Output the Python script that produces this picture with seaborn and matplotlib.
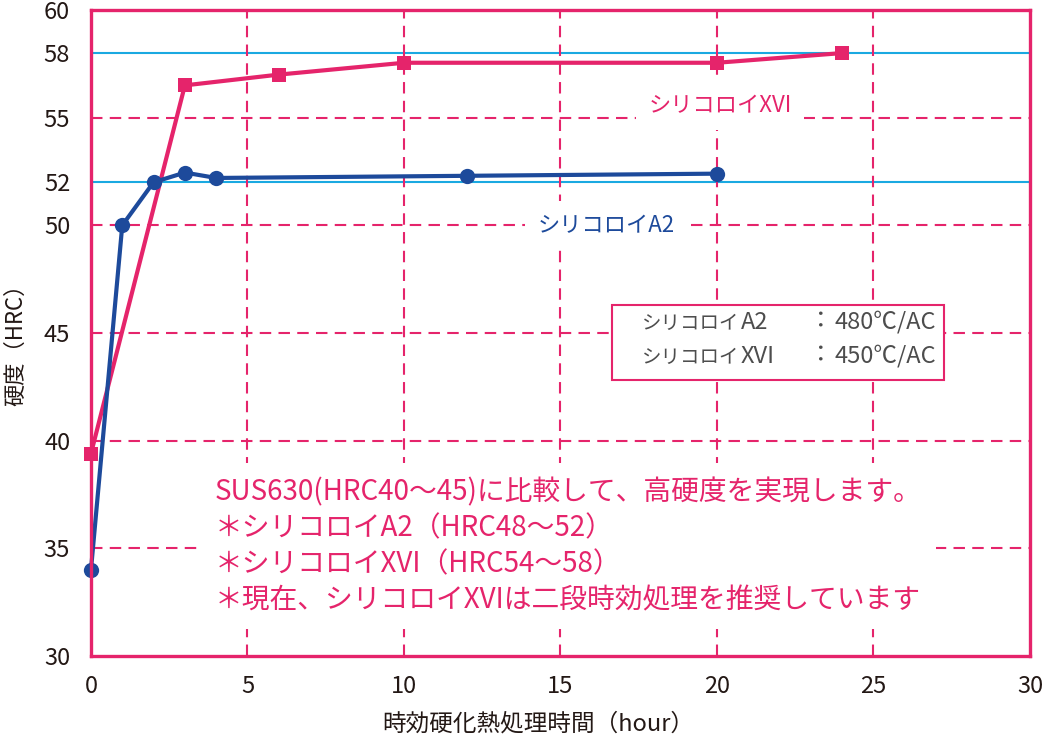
import matplotlib
matplotlib.use("Agg")
import matplotlib.pyplot as plt
import seaborn as sns
import pandas as pd
from matplotlib.patches import Rectangle

# data
xvi_time = [0, 3, 6, 10, 20, 24]
xvi_hrc = [39.4, 56.5, 57.0, 57.55, 57.55, 58.0]
a2_time = [0, 1, 2, 3, 4, 12, 20]
a2_hrc = [34.0, 50.0, 52.0, 52.45, 52.2, 52.3, 52.4]

y_ticks = [30, 35, 40, 45, 50, 52, 55, 58, 60]
x_ticks = [0, 5, 10, 15, 20, 25, 30]
dashed_y = [35, 40, 45, 50, 55]
solid_y = [52, 58]
dashed_x = [5, 10, 15, 20, 25]

PINK = "#E5246B"
BLUE = "#1D4A9B"
CYAN = "#1AA9E1"
DARK = "#231815"
GRAY = "#4D4D4D"

sns.set_style("white")
plt.rcParams['font.family'] = ['Noto Sans CJK JP', 'DejaVu Sans']

df_xvi = pd.DataFrame({"time": xvi_time, "hrc": xvi_hrc})
df_a2 = pd.DataFrame({"time": a2_time, "hrc": a2_hrc})

fig = plt.figure(figsize=(10.48, 7.41), dpi=100)
ax = fig.add_axes([0.0868, 0.1147, 0.896, 0.8718])

# grid
dash = (0, (5.5, 3.5))
for y in dashed_y:
    ax.axhline(y, color=PINK, lw=1.5, ls=dash, zorder=1)
for y in solid_y:
    ax.axhline(y, color=CYAN, lw=1.5, zorder=1)
for x in dashed_x:
    ax.axvline(x, color=PINK, lw=1.5, ls=dash, zorder=1)

sns.lineplot(data=df_xvi, x="time", y="hrc", ax=ax, color=PINK, lw=3,
             marker="s", markersize=10, markeredgewidth=0, zorder=4, clip_on=False)
sns.lineplot(data=df_a2, x="time", y="hrc", ax=ax, color=BLUE, lw=3,
             marker="o", markersize=11, markeredgewidth=0, zorder=4, clip_on=False)

ax.set_xlim(0, 30)
ax.set_ylim(30, 60)
ax.set_xticks(x_ticks)
ax.set_yticks(y_ticks)
ax.tick_params(length=0, labelsize=17, colors=DARK)
ax.tick_params(axis="y", pad=15)
ax.tick_params(axis="x", pad=14)

for s in ax.spines.values():
    s.set_color(PINK)
    s.set_linewidth(2.4)
    s.set_zorder(5)

ax.set_xlabel("時効硬化熱処理時間（hour）", fontsize=17, color=DARK)
ax.xaxis.set_label_coords(0.476, -0.087)
ax.set_ylabel("硬度（HRC）", fontsize=16, color=DARK)
ax.yaxis.set_label_coords(-0.068, 0.49)

# series labels
ax.text(20.1, 55.55, "シリコロイXVI", color=PINK, fontsize=16, ha="center", va="center",
        zorder=3, bbox=dict(facecolor="white", edgecolor="none", pad=9))
ax.text(16.45, 50.0, "シリコロイA2", color=BLUE, fontsize=16, ha="center", va="center",
        zorder=3, bbox=dict(facecolor="white", edgecolor="none", pad=9))

# condition box
ax.add_patch(Rectangle((16.65, 42.82), 10.6, 3.48, facecolor="white",
                       edgecolor=PINK, lw=1.5, zorder=3))
box_rows = [(45.2, "A2", "480℃/AC"), (43.62, "XVI", "450℃/AC")]
for yy, grade, cond in box_rows:
    kana = ax.text(17.6, yy, "シリコロイ", color=GRAY, fontsize=14, va="baseline", zorder=3.5)
    ax.annotate(grade, xy=(1, yy), xycoords=(kana, "data"), xytext=(1, 0),
                textcoords="offset points", color=GRAY, fontsize=17,
                va="baseline", zorder=3.5)
    ax.text(22.95, yy, "：", color=GRAY, fontsize=17, va="baseline", zorder=3.5)
    ax.text(23.75, yy, cond, color=GRAY, fontsize=17, va="baseline", zorder=3.5)

note = ("SUS630(HRC40～45)に比較して、高硬度を実現します。\n"
        "＊シリコロイA2（HRC48～52）\n"
        "＊シリコロイXVI（HRC54～58）\n"
        "＊現在、シリコロイXVIは二段時効処理を推奨しています")
ax.text(3.96, 35.1, note, color=PINK, fontsize=20, ha="left", va="center",
        linespacing=1.26, zorder=3,
        bbox=dict(facecolor="white", edgecolor="none", pad=10))

fig.savefig("out.png", dpi=100)
